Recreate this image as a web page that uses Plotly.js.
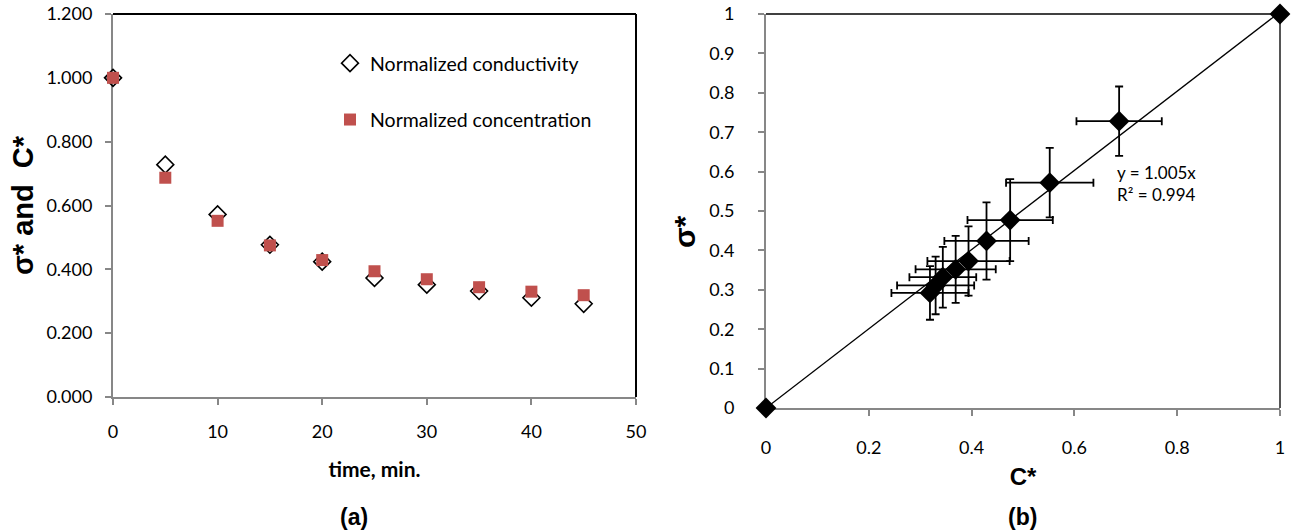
<!DOCTYPE html>
<html>
<head>
<meta charset="utf-8">
<script src="https://cdn.plot.ly/plotly-3.0.1.min.js"></script>
<style>html,body{margin:0;padding:0;background:#fff;}#chart{width:1292px;height:531px;}</style>
</head>
<body>
<div id="chart"></div>
<script>
// ---- data ----
const timeMin = [0, 5, 10, 15, 20, 25, 30, 35, 40, 45];
const sigmaStar = [1.000, 0.728, 0.572, 0.477, 0.424, 0.373, 0.352, 0.332, 0.311, 0.292];
const cStar = [1.000, 0.687, 0.552, 0.475, 0.429, 0.394, 0.369, 0.344, 0.330, 0.319];
// panel (b): origin point plus the same pairs
const originC = [0];
const originSigma = [0];
const errC = [null, null, 0.083, 0.085, 0.083, 0.082, 0.080, 0.078, 0.065, 0.075, 0.075];
const errSigma = [null, null, 0.088, 0.088, 0.104, 0.098, 0.088, 0.085, 0.077, 0.073, 0.068];
const trendX = [0, 1];
const trendSlope = 1.005;
const trendR2 = 0.994;
const xTicksA = [0, 10, 20, 30, 40, 50];
const yTicksA = [0, 0.2, 0.4, 0.6, 0.8, 1.0, 1.2];
const xTicksB = [0, 0.2, 0.4, 0.6, 0.8, 1];
const yTicksB = [0, 0.1, 0.2, 0.3, 0.4, 0.5, 0.6, 0.7, 0.8, 0.9, 1];

const tickFont = {family: 'Lato, "Open Sans", sans-serif', size: 18, color: '#000'};
const axisGray = '#878787';
const NB = '\u00a0';

const bX = originC.concat(cStar);
const bY = originSigma.concat(sigmaStar);

const traces = [
  {x: timeMin, y: sigmaStar, xaxis: 'x', yaxis: 'y', type: 'scatter', mode: 'markers',
   name: 'Normalized conductivity', legendgroup: 'g1', cliponaxis: false,
   marker: {symbol: 'diamond-open', size: 13, color: '#000', line: {width: 1.6, color: '#000'}}},
  {x: timeMin, y: cStar, xaxis: 'x', yaxis: 'y', type: 'scatter', mode: 'markers',
   name: 'Normalized concentration', legendgroup: 'g2', cliponaxis: false,
   marker: {symbol: 'square', size: 12, color: '#C0504D'}},
  {x: trendX, y: trendX.map(v => v * trendSlope), xaxis: 'x2', yaxis: 'y2', type: 'scatter',
   mode: 'lines', showlegend: false, line: {color: '#000', width: 1.3}},
  {x: bX, y: bY, xaxis: 'x2', yaxis: 'y2', type: 'scatter', mode: 'markers',
   showlegend: false, cliponaxis: false,
   marker: {symbol: 'diamond', size: 16, color: '#000'},
   error_x: {type: 'data', array: errC, visible: true, color: '#000', thickness: 1.8, width: 4},
   error_y: {type: 'data', array: errSigma, visible: true, color: '#000', thickness: 1.8, width: 4}}
];

const baseAxis = {
  showgrid: false, zeroline: false, showline: true, linecolor: axisGray, linewidth: 2,
  ticks: 'outside', ticklen: 6, tickwidth: 2, tickcolor: axisGray, tickfont: tickFont,
  layer: 'below traces'
};

const layout = {
  width: 1292, height: 531,
  margin: {l: 0, r: 0, t: 0, b: 0},
  paper_bgcolor: '#fff', plot_bgcolor: '#fff',
  showlegend: true,
  legend: {x: 330 / 1292, y: 1 - 44 / 531, xanchor: 'left', yanchor: 'top',
           font: {family: 'Lato, sans-serif', size: 19.5, color: '#000'},
           bgcolor: 'rgba(0,0,0,0)', tracegroupgap: 28, traceorder: 'grouped'},
  xaxis: Object.assign({}, baseAxis, {
    domain: [113 / 1292, 636 / 1292], range: [0, 50], tickvals: xTicksA, anchor: 'y',
    ticklabelstandoff: 11,
    title: {text: '<b>time, min.</b>', standoff: 22, font: {family: 'Lato, sans-serif', size: 21, color: '#000'}}
  }),
  yaxis: Object.assign({}, baseAxis, {
    domain: [1 - 397 / 531, 1 - 14 / 531], range: [0, 1.2], tickvals: yTicksA, tickformat: '.3f',
    anchor: 'x', ticklabelstandoff: 9,
    title: {text: '<b>σ* and' + NB + NB + 'C*</b>',
            standoff: 4, font: {family: '"Liberation Sans", Arial, sans-serif', size: 29, color: '#000'}}
  }),
  xaxis2: Object.assign({}, baseAxis, {
    domain: [766 / 1292, 1280 / 1292], range: [0, 1], tickvals: xTicksB, anchor: 'y2',
    ticklabelstandoff: 16,
    title: {text: '<b>C*</b>', standoff: 12, font: {family: '"Liberation Sans", Arial, sans-serif', size: 24, color: '#000'}}
  }),
  yaxis2: Object.assign({}, baseAxis, {
    domain: [1 - 408 / 531, 1 - 14 / 531], range: [0, 1], tickvals: yTicksB, anchor: 'x2',
    ticklabelstandoff: 20,
    title: {text: '<b>σ*' + NB.repeat(5) + '</b>', standoff: 5, font: {family: '"Liberation Sans", Arial, sans-serif', size: 30, color: '#000'}}
  }),
  shapes: [
    {type: 'line', layer: 'below', xref: 'x domain', yref: 'y domain', x0: 0, x1: 1, y0: 1, y1: 1, line: {color: '#000', width: 2}},
    {type: 'line', layer: 'below', xref: 'x domain', yref: 'y domain', x0: 1, x1: 1, y0: 0, y1: 1, line: {color: '#000', width: 2}},
    {type: 'line', layer: 'below', xref: 'x2 domain', yref: 'y2 domain', x0: 0, x1: 1, y0: 1, y1: 1, line: {color: '#000', width: 1.5}},
    {type: 'line', layer: 'below', xref: 'x2 domain', yref: 'y2 domain', x0: 1, x1: 1, y0: 0, y1: 1, line: {color: '#555', width: 2}}
  ],
  annotations: [
    {text: '<b>(a)</b>', xref: 'paper', yref: 'paper', x: 354 / 1292, y: 1 - 517 / 531,
     xanchor: 'center', yanchor: 'middle',
     showarrow: false, font: {family: '"Liberation Sans", Arial, sans-serif', size: 23, color: '#000'}},
    {text: '<b>(b)</b>', xref: 'paper', yref: 'paper', x: 1022 / 1292, y: 1 - 517 / 531,
     xanchor: 'center', yanchor: 'middle',
     showarrow: false, font: {family: '"Liberation Sans", Arial, sans-serif', size: 23, color: '#000'}},
    {text: 'y = ' + trendSlope.toFixed(3) + 'x<br>R² = ' + trendR2.toFixed(3),
     xref: 'paper', yref: 'paper', x: 1115 / 1292, y: 1 - 160 / 531, xanchor: 'left', yanchor: 'top',
     align: 'left', showarrow: false, font: {family: 'Lato, sans-serif', size: 17, color: '#000'}}
  ]
};

Plotly.newPlot('chart', traces, layout, {displayModeBar: false, staticPlot: true});
</script>
</body>
</html>
